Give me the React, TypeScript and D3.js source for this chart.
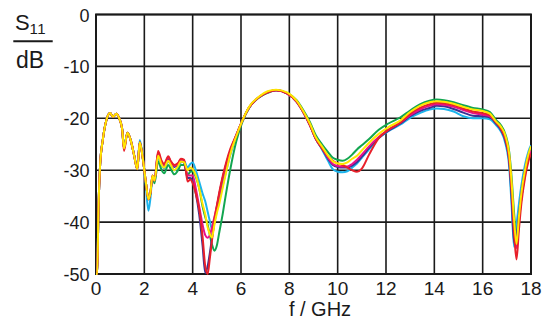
import React from 'react';
import * as d3 from 'd3';

const freqGHz = [
  0, 0.05, 0.1, 0.17, 0.28, 0.44, 0.58, 0.71, 0.84, 0.96,
  1.08, 1.16, 1.3, 1.44, 1.58, 1.71, 1.81, 1.92, 2.06, 2.17,
  2.25, 2.34, 2.42, 2.57, 2.7, 2.82, 2.99, 3.1, 3.24, 3.4,
  3.51, 3.65, 3.79, 3.9, 4.0, 4.13, 4.27, 4.41, 4.52, 4.62,
  4.71, 4.8, 4.9, 5.0, 5.1, 5.24, 5.38, 5.55, 5.8, 6.05,
  6.35, 6.75, 7.1, 7.45, 7.9, 8.3, 8.55, 8.85, 9.1, 9.35,
  9.6, 9.8, 10.0, 10.2, 10.4, 10.6, 10.8, 11.0, 11.3, 11.7,
  12.1, 12.6, 13.0, 13.4, 13.8, 14.1, 14.4, 14.8, 15.2, 15.6,
  16.0, 16.3, 16.55, 16.75, 16.95, 17.1, 17.2, 17.3, 17.4, 17.5,
  17.6, 17.75, 17.9, 18.0,
];

const s11Blue = [
  -50, -50, -38, -29, -24.2, -20.2, -19.0, -19.7, -19.1, -20.0,
  -22.0, -25.5, -22.8, -24.3, -27.0, -29.6, -24.2, -27.0, -32.8, -37.8,
  -35.5, -31.2, -32.2, -27.5, -29.0, -29.6, -28.3, -29.0, -30.0, -29.5,
  -28.5, -28.3, -29.5, -28.8, -28.5, -30.0, -32.2, -34.5, -36.0, -38.0,
  -39.8, -41.3, -40.0, -37.8, -35.8, -33.0, -30.3, -27.2, -23.6, -20.5,
  -17.8, -15.9, -15.0, -14.6, -15.2, -16.8, -18.6, -21.3, -24.0, -26.0,
  -28.2, -29.8, -30.3, -30.4, -30.2, -29.5, -28.7, -27.6, -26.0, -23.8,
  -22.5, -21.2, -19.9, -19.0, -18.3, -18.1, -18.2, -18.7, -19.6, -20.0,
  -20.0, -20.2, -21.3, -22.5, -25.0, -29.5, -37.0, -44.8, -40.5, -36.5,
  -33.0, -29.0, -26.3, -25.2,
];

const s11Green = [
  -50, -50, -38, -29, -24.2, -20.2, -19.0, -19.7, -19.1, -20.0,
  -22.0, -25.8, -22.8, -24.3, -27.2, -29.8, -24.6, -27.2, -32.2, -35.6,
  -34.6, -31.3, -32.5, -28.3, -29.8, -30.6, -29.0, -29.8, -30.8, -30.0,
  -29.0, -29.0, -31.0, -30.3, -30.2, -31.3, -33.5, -37.0, -39.0, -40.5,
  -42.5, -44.3, -45.5, -44.5, -42.0, -38.5, -34.5, -30.0, -24.5, -20.8,
  -17.9, -16.0, -15.1, -14.6, -15.1, -16.5, -18.2, -20.7, -23.3, -25.0,
  -26.5, -27.6, -28.0, -28.2, -27.8, -27.0, -26.0, -25.2, -24.0, -22.2,
  -21.0, -19.8, -18.5, -17.3, -16.6, -16.4, -16.5, -16.9, -17.5, -18.0,
  -18.3, -18.8, -20.3, -21.3, -23.2, -26.5, -31.5, -38.2, -43.0, -39.5,
  -35.5, -30.5, -27.0, -25.5,
];

const s11Purple = [
  -50, -50, -38, -29, -24.2, -20.2, -19.0, -19.7, -19.1, -20.0,
  -22.0, -25.8, -22.8, -24.3, -27.2, -29.8, -24.6, -27.2, -32.2, -35.6,
  -34.4, -31.0, -32.0, -26.8, -28.5, -29.2, -27.8, -28.6, -29.4, -28.9,
  -28.2, -28.6, -31.5, -31.5, -32.0, -34.5, -38.5, -44.5, -49.8, -48.5,
  -46.0, -43.0, -40.0, -37.2, -34.7, -31.6, -29.0, -26.4, -23.3, -20.5,
  -17.8, -15.9, -15.0, -14.6, -15.2, -16.8, -18.6, -21.3, -24.0, -25.8,
  -27.8, -29.0, -29.4, -29.5, -29.5, -29.1, -28.4, -27.4, -25.7, -23.8,
  -22.4, -21.0, -19.6, -18.6, -18.0, -17.6, -17.7, -18.2, -18.9, -19.5,
  -19.6, -19.8, -21.0, -22.2, -24.5, -28.5, -35.5, -44.0, -43.0, -38.5,
  -34.5, -30.0, -27.0, -25.8,
];

const s11Magenta = [
  -50, -50, -38, -29, -24.2, -20.2, -19.0, -19.7, -19.1, -20.0,
  -22.0, -25.8, -22.8, -24.3, -27.2, -29.8, -24.6, -27.2, -32.2, -35.6,
  -34.4, -31.0, -32.0, -26.6, -28.3, -29.0, -27.5, -28.4, -29.2, -28.7,
  -28.0, -28.3, -31.0, -31.0, -31.0, -33.5, -37.0, -40.5, -42.5, -43.0,
  -42.5, -41.0, -39.0, -37.0, -34.7, -31.6, -29.0, -26.4, -23.3, -20.5,
  -17.8, -15.9, -15.0, -14.6, -15.2, -16.8, -18.6, -21.3, -24.0, -25.7,
  -27.6, -28.8, -29.2, -29.3, -29.3, -28.8, -28.0, -27.0, -25.4, -23.6,
  -22.2, -20.8, -19.4, -18.3, -17.6, -17.3, -17.4, -17.8, -18.4, -19.0,
  -19.3, -19.6, -20.7, -21.8, -24.0, -27.5, -33.5, -41.0, -45.0, -40.0,
  -35.5, -31.0, -27.6, -26.3,
];

const s11Red = [
  -50, -50, -38, -29, -24.2, -20.2, -19.0, -19.7, -19.1, -20.0,
  -22.0, -26.3, -22.8, -24.3, -27.2, -29.8, -24.6, -27.2, -32.2, -35.6,
  -34.4, -31.0, -32.0, -26.3, -28.0, -28.8, -27.3, -28.3, -29.0, -28.6,
  -27.8, -28.0, -32.2, -31.8, -32.5, -34.5, -37.5, -42.8, -48.5, -50.0,
  -47.0, -43.5, -39.5, -36.8, -34.3, -31.2, -28.6, -26.0, -23.3, -20.5,
  -17.8, -15.9, -15.0, -14.6, -15.2, -16.8, -18.6, -21.3, -24.0, -25.8,
  -27.3, -28.2, -28.7, -29.0, -29.5, -30.0, -30.3, -29.7, -27.0, -23.8,
  -22.2, -20.8, -19.1, -18.0, -17.3, -17.0, -17.1, -17.5, -18.1, -18.7,
  -19.0, -19.4, -20.8, -22.0, -24.2, -28.0, -34.0, -42.0, -47.2, -41.5,
  -36.5, -31.5, -28.2, -26.8,
];

const s11Yellow = [
  -50, -50, -38, -29, -24.2, -20.2, -19.0, -19.7, -19.1, -20.0,
  -22.0, -25.8, -22.8, -24.3, -27.2, -29.8, -24.6, -27.2, -32.2, -35.6,
  -34.4, -31.0, -32.0, -27.2, -28.8, -29.5, -28.2, -29.0, -30.0, -29.2,
  -28.3, -28.5, -30.0, -29.5, -29.8, -31.0, -33.5, -36.5, -38.5, -41.0,
  -42.3, -43.0, -40.5, -38.3, -36.5, -33.5, -30.5, -27.0, -23.5, -20.5,
  -17.7, -15.8, -14.8, -14.5, -15.0, -16.6, -18.4, -21.0, -23.7, -25.4,
  -27.2, -28.3, -28.7, -28.8, -28.5, -27.8, -27.2, -26.2, -24.7, -23.0,
  -21.7, -20.4, -18.8, -17.6, -16.9, -16.7, -16.8, -17.2, -17.8, -18.3,
  -18.6, -19.1, -20.6, -21.6, -23.5, -27.0, -32.5, -39.5, -44.2, -39.0,
  -34.5, -30.0, -26.8, -25.4,
];

const xTicks = [0, 2, 4, 6, 8, 10, 12, 14, 16, 18];
const yTicks = [0, -10, -20, -30, -40, -50];

const W = 547;
const H = 320;
const PLOT = { left: 96, right: 531, top: 14.5, bottom: 274 };
const FONT = '"Liberation Sans", Arial, Helvetica, sans-serif';

export default function App() {
  const x = d3.scaleLinear().domain([0, 18]).range([PLOT.left, PLOT.right]);
  const y = d3.scaleLinear().domain([0, -50]).range([PLOT.top, PLOT.bottom]);

  const series = [
    { key: 'blue', color: '#1cb4ec', values: s11Blue },
    { key: 'green', color: '#12a650', values: s11Green },
    { key: 'purple', color: '#3b3192', values: s11Purple },
    { key: 'magenta', color: '#e8108a', values: s11Magenta },
    { key: 'red', color: '#e8202a', values: s11Red },
    { key: 'yellow', color: '#ffe600', values: s11Yellow },
  ];

  const line = d3
    .line<number>()
    .x((_, i) => x(freqGHz[i]))
    .y((d) => y(Math.max(d, -50)))
    .curve(d3.curveMonotoneX);

  return (
    <svg
      width={W}
      height={H}
      viewBox={`0 0 ${W} ${H}`}
      style={{ position: 'absolute', left: 0, top: 0, background: '#fff' }}
      fontFamily={FONT}
    >
      <defs>
        <clipPath id="plotClip">
          <rect x={PLOT.left} y={PLOT.top - 1} width={PLOT.right - PLOT.left} height={PLOT.bottom - PLOT.top + 2} />
        </clipPath>
      </defs>

      {/* grid */}
      {xTicks.map((t) => (
        <line key={'gx' + t} x1={x(t)} x2={x(t)} y1={PLOT.top} y2={PLOT.bottom} stroke="#1a1a1a" strokeWidth={1.6} />
      ))}
      {yTicks.map((t) => (
        <line key={'gy' + t} x1={PLOT.left} x2={PLOT.right} y1={y(t)} y2={y(t)} stroke="#1a1a1a" strokeWidth={1.6} />
      ))}
      <rect
        x={PLOT.left}
        y={PLOT.top}
        width={PLOT.right - PLOT.left}
        height={PLOT.bottom - PLOT.top}
        fill="none"
        stroke="#1a1a1a"
        strokeWidth={2}
      />

      {/* curves */}
      <g clipPath="url(#plotClip)">
        {series.map((s) => (
          <path key={s.key} d={line(s.values) || ''} fill="none" stroke={s.color} strokeWidth={2} strokeLinejoin="round" />
        ))}
      </g>

      {/* y tick labels */}
      {yTicks.map((t) => (
        <text key={'ly' + t} x={89.5} y={y(t) + 7} textAnchor="end" fontSize={18} fill="#1a1a1a">
          {t === 0 ? '0' : '-' + Math.abs(t)}
        </text>
      ))}

      {/* x tick labels */}
      {xTicks.map((t) => (
        <text key={'lx' + t} x={x(t)} y={295} textAnchor="middle" fontSize={19} fill="#1a1a1a">
          {t}
        </text>
      ))}

      <text x={320} y={316} textAnchor="middle" fontSize={20} fill="#1a1a1a">
        f / GHz
      </text>

      {/* y-axis quantity label */}
      <text x={15} y={30} fontSize={22} fill="#1a1a1a">
        S
      </text>
      <text x={29.5} y={33.5} fontSize={15} fill="#1a1a1a" letterSpacing={0.5}>
        11
      </text>
      <line x1={13.3} x2={52.7} y1={41.3} y2={41.3} stroke="#1a1a1a" strokeWidth={2} />
      <text x={16} y={68} fontSize={23} fill="#1a1a1a">
        dB
      </text>
    </svg>
  );
}
